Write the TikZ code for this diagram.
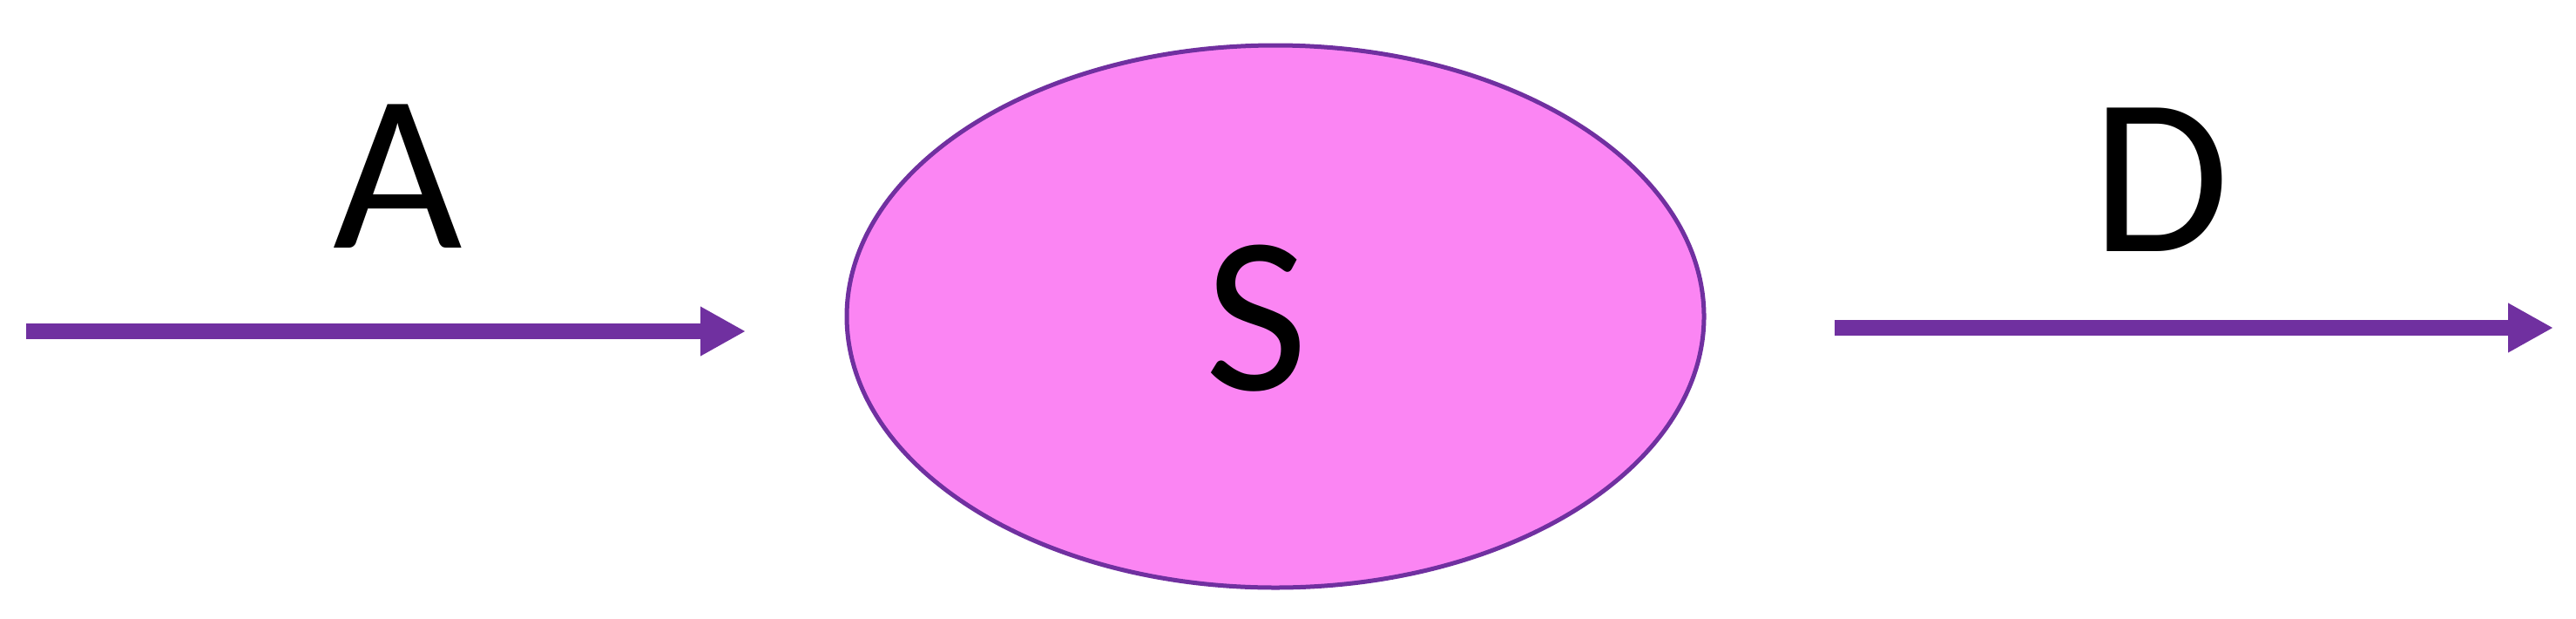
\documentclass[tikz,border=0pt]{standalone}
\usepackage{fontspec}
\setmainfont{Carlito}
\usepackage{tikz}
\usetikzlibrary{arrows.meta,shapes.geometric}
\definecolor{flowpurple}{HTML}{7030A0}
\definecolor{tankpink}{HTML}{FB85F3}

\begin{document}
\begin{tikzpicture}[
  flow/.style={flowpurple,line width=0.18cm,-{Triangle[length=0.52cm,width=0.53cm]}},
  tank/.style={ellipse,draw=flowpurple,fill=tankpink,line width=0.05cm,
    minimum width=9.84cm,minimum height=6.22cm,inner sep=0pt},
  lbl/.style={font=\fontsize{73}{80}\selectfont,inner sep=0pt,anchor=base}]
\useasboundingbox (0,0) rectangle (29.57,7.09);
\node[tank] (sys) at (14.64,3.46) {};
\node[lbl] (S) at (14.42,2.62) {S};
\coordinate (in0) at (0.30,3.29);
\coordinate (in1) at (8.56,3.29);
\draw[flow] (in0) -- (in1);
\node[lbl] (A) at (4.57,4.25) {A};
\coordinate (out0) at (21.06,3.33);
\coordinate (out1) at (29.31,3.33);
\draw[flow] (out0) -- (out1);
\node[lbl] (D) at (24.80,4.21) {D};
\end{tikzpicture}
\end{document}
